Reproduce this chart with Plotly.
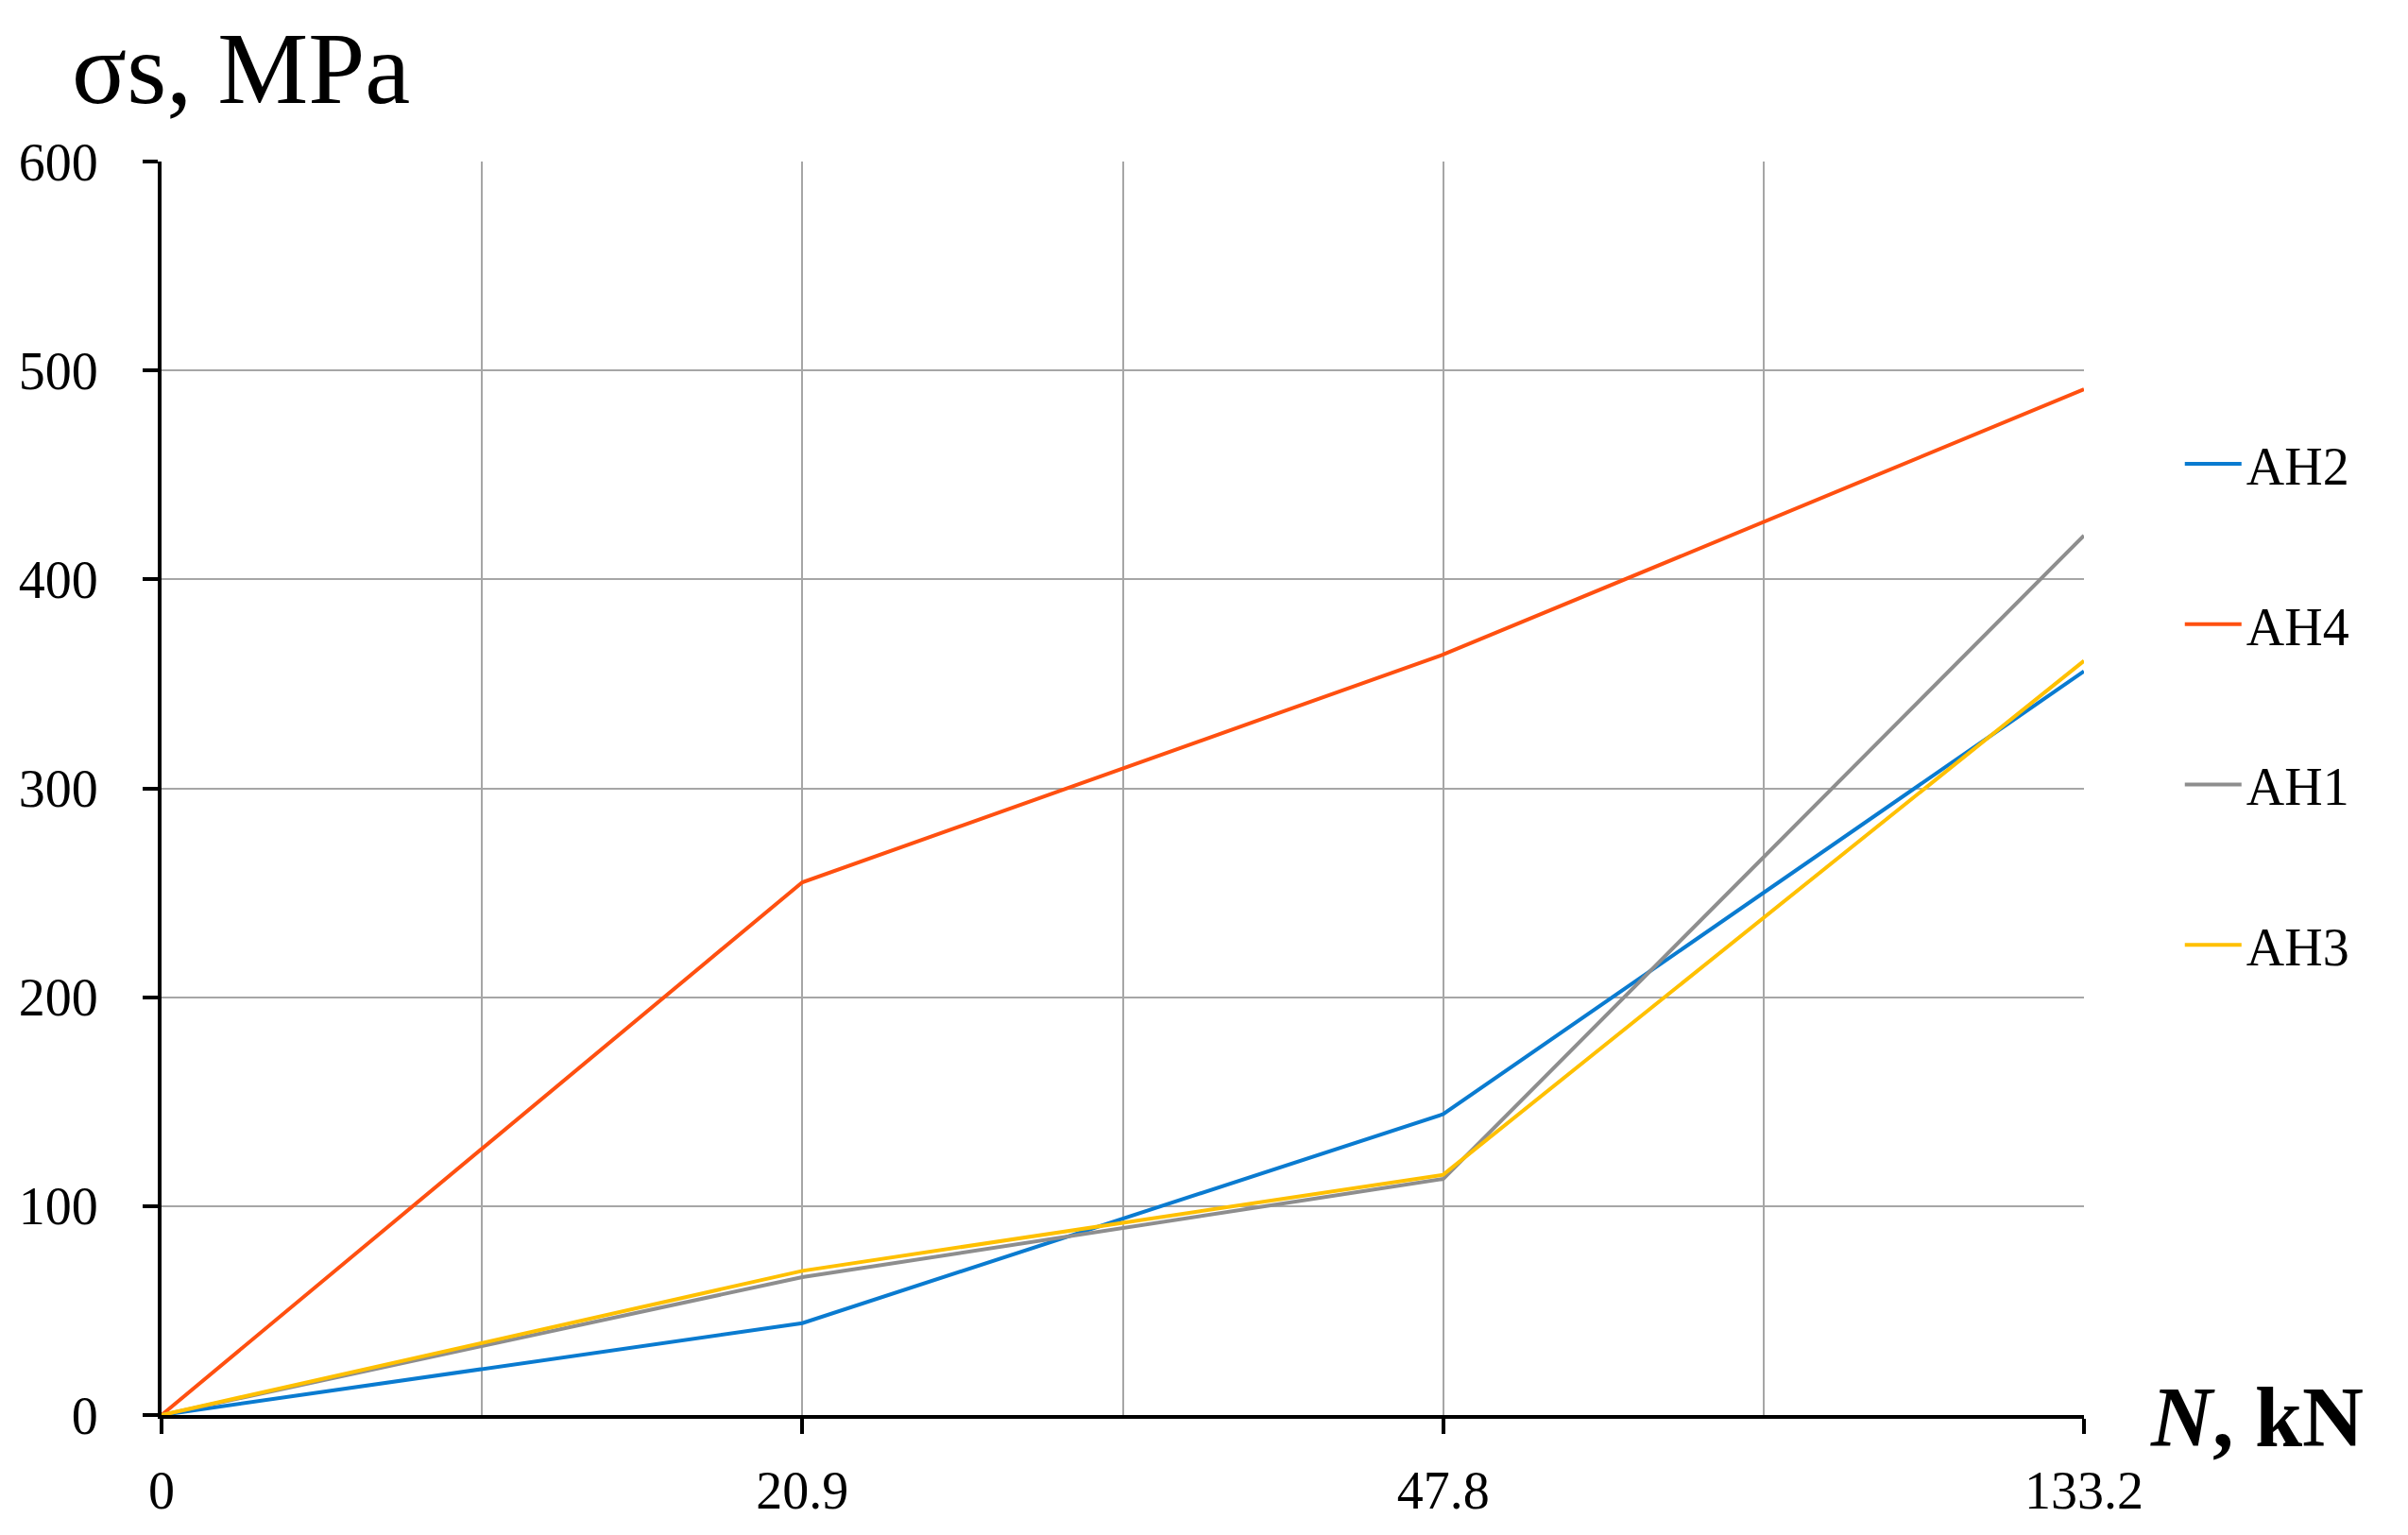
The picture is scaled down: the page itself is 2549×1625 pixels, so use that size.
import plotly.graph_objects as go

# load steps N, kN (plotted as equally spaced categories)
n_labels = ["0", "20.9", "47.8", "133.2"]
ah2 = [0, 44, 144, 356]
ah4 = [0, 255, 364, 491]
ah1 = [0, 66, 113, 421]
ah3 = [0, 69, 115, 361]

series = [("AH2", ah2, "#0A7BD0"),
          ("AH4", ah4, "#FF5010"),
          ("AH1", ah1, "#8E8E8E"),
          ("AH3", ah3, "#FFC000")]

xpos = list(range(len(n_labels)))
serif = "Liberation Serif, Times New Roman, serif"

fig = go.Figure()
for name, vals, col in series:
    fig.add_trace(go.Scatter(x=xpos, y=vals, mode="lines", name=name,
                             legendgroup=name,
                             line=dict(color=col, width=4)))

W, H = 2549, 1625
L, R, T, B = 158, 351, 163, 135
pw = W - L - R
ph = H - T - B

fig.update_layout(
    width=W, height=H,
    margin=dict(l=L, r=R, t=T, b=B),
    plot_bgcolor="white", paper_bgcolor="white",
    font=dict(family=serif, size=56, color="black"),
    showlegend=True,
    legend=dict(x=(2300 - L) / pw, y=(1490 - 440) / ph, xanchor="left", yanchor="top",
                font=dict(size=56), tracegroupgap=94, bgcolor="rgba(0,0,0,0)",
                itemwidth=60),
    xaxis=dict(range=[0, 3], tickmode="array", tickvals=xpos, ticktext=n_labels,
               showgrid=True, gridcolor="#A6A6A6", gridwidth=2,
               minor=dict(tickvals=[0.5, 1.5, 2.5], showgrid=True,
                          gridcolor="#A6A6A6", gridwidth=2, ticklen=0),
               showline=True, linecolor="black", linewidth=4,
               ticks="outside", ticklen=16, tickwidth=4, tickcolor="black",
               ticklabelstandoff=12, zeroline=False,
               tickfont=dict(size=56)),
    yaxis=dict(range=[0, 600], dtick=100, showgrid=True, gridcolor="#A6A6A6", gridwidth=2,
               showline=True, linecolor="black", linewidth=4,
               ticks="outside", ticklen=16, tickwidth=4, tickcolor="black",
               ticklabelstandoff=36, zeroline=False,
               tickfont=dict(size=56)),
)

fig.add_annotation(text="σs, MPa", xref="paper", yref="paper",
                   x=(61 - L) / pw, y=1 + (T - 64) / ph, xanchor="left", yanchor="middle",
                   showarrow=False, font=dict(size=108, family=serif))
fig.add_annotation(text="<b><i>N</i>, kN</b>", xref="paper", yref="paper",
                   x=(2266 - L) / pw, y=(1490 - 1492) / ph, xanchor="left", yanchor="middle",
                   showarrow=False, font=dict(size=90, family=serif))

fig.write_html("out.html")
